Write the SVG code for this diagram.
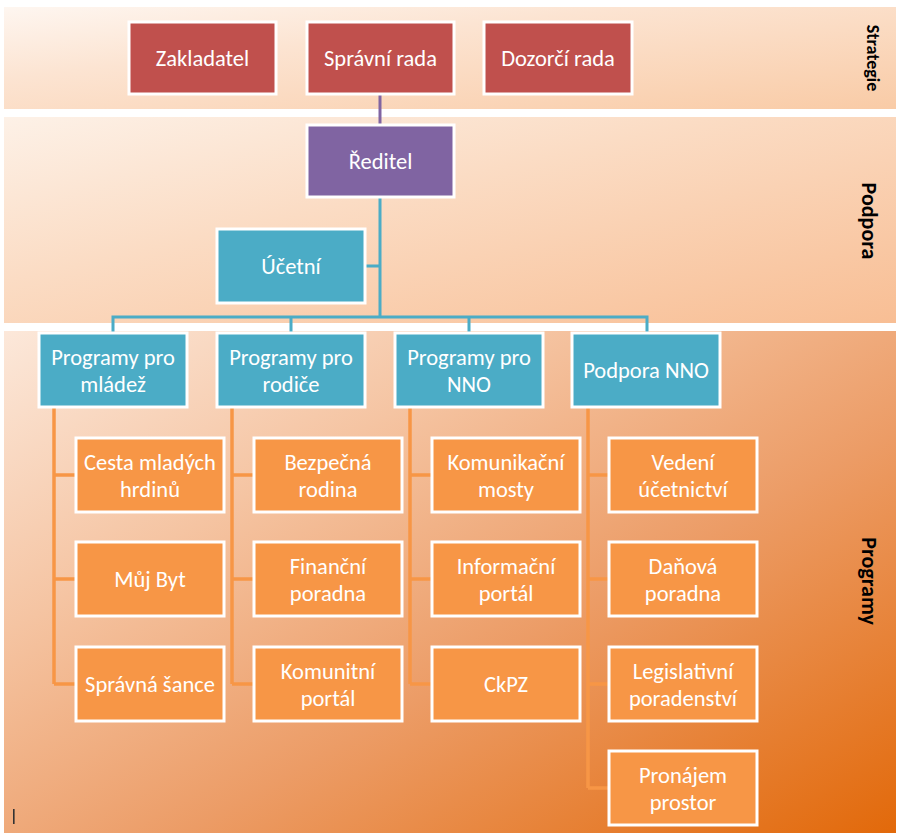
<svg xmlns="http://www.w3.org/2000/svg" width="900" height="838" viewBox="0 0 900 838">
<defs>
<linearGradient id="gS" x1="0" y1="0" x2="1" y2="1">
<stop offset="0" stop-color="#FEF6F0"/>
<stop offset="0.35" stop-color="#FCE4D2"/>
<stop offset="1" stop-color="#F9CBA6"/>
</linearGradient>
<linearGradient id="gP" x1="0" y1="0" x2="1" y2="1">
<stop offset="0" stop-color="#FDF1E7"/>
<stop offset="0.4" stop-color="#FBDCC4"/>
<stop offset="1" stop-color="#F8BE94"/>
</linearGradient>
<linearGradient id="gG" x1="0" y1="0" x2="1" y2="1">
<stop offset="0" stop-color="#FCE8DA"/>
<stop offset="0.3" stop-color="#F5C4A2"/>
<stop offset="0.6" stop-color="#EC9C66"/>
<stop offset="1" stop-color="#E2690A"/>
</linearGradient>
<style>
.box{stroke:#FFFFFF;stroke-width:3}
.red{fill:#C0504D}
.pur{fill:#8064A2}
.blu{fill:#4BACC6}
.org{fill:#F79646}
.t{font-family:Calibri,Carlito,Lato,'Liberation Sans',sans-serif;font-size:22.5px;fill:#FFFFFF;text-anchor:middle}
.lbl{font-family:Calibri,Carlito,Lato,'Liberation Sans',sans-serif;font-weight:bold;fill:#000000;text-anchor:middle}
.cp{fill:none;stroke:#8064A2;stroke-width:3}
.cb{fill:none;stroke:#4BACC6;stroke-width:3}
.co{fill:none;stroke:#F79646;stroke-width:3.5}
</style>
</defs>
<rect width="900" height="838" fill="#FFFFFF"/>
<g id="bands">
<rect x="4" y="7" width="892" height="102" fill="url(#gS)"/>
<rect x="4" y="117" width="892" height="206" fill="url(#gP)"/>
<rect x="4" y="331" width="892" height="502" fill="url(#gG)"/>
<text class="lbl" font-size="18" transform="translate(873,58) rotate(90)" dy="6">Strategie</text>
<text class="lbl" font-size="22" transform="translate(869,221) rotate(90)" dy="7.5">Podpora</text>
<text class="lbl" font-size="22" transform="translate(869,581) rotate(90)" dy="7.5">Programy</text>
<rect x="13" y="809" width="1.6" height="15" fill="#333333"/>
</g>
<g id="connectors">
<path class="cp" d="M380 94 V125"/>
<path class="cb" d="M380 197 V317 M365 266 H380 M113 333 V317 H647 V333 M291 317 V333 M469 317 V333"/>
<path class="co" d="M54 407 V684 M54 475 H76 M54 579 H76 M54 684 H76"/>
<path class="co" d="M232 407 V684 M232 475 H254 M232 579 H254 M232 684 H254"/>
<path class="co" d="M410 407 V684 M410 475 H432 M410 579 H432 M410 684 H432"/>
<path class="co" d="M588 407 V788 M588 475 H609 M588 579 H609 M588 684 H609 M588 788 H609"/>
</g>
<g id="zakladatel"><rect class="box red" x="129" y="22" width="147" height="72"/><text class="t" x="202.5" y="66">Zakladatel</text></g>
<g id="spravni-rada"><rect class="box red" x="307" y="22" width="147" height="72"/><text class="t" x="380.5" y="66">Správní rada</text></g>
<g id="dozorci-rada"><rect class="box red" x="484" y="22" width="148" height="72"/><text class="t" x="558" y="66">Dozorčí rada</text></g>
<g id="reditel"><rect class="box pur" x="307" y="125" width="147" height="72"/><text class="t" x="380.5" y="169">Ředitel</text></g>
<g id="ucetni"><rect class="box blu" x="217" y="229" width="148" height="74"/><text class="t" x="291" y="274">Účetní</text></g>
<g id="prog-mladez"><rect class="box blu" x="39" y="333" width="148" height="74"/><text class="t"><tspan x="113" y="364.5">Programy pro</tspan><tspan x="113" y="391.5">mládež</tspan></text></g>
<g id="prog-rodice"><rect class="box blu" x="217" y="333" width="148" height="74"/><text class="t"><tspan x="291" y="364.5">Programy pro</tspan><tspan x="291" y="391.5">rodiče</tspan></text></g>
<g id="prog-nno"><rect class="box blu" x="395" y="333" width="148" height="74"/><text class="t"><tspan x="469" y="364.5">Programy pro</tspan><tspan x="469" y="391.5">NNO</tspan></text></g>
<g id="podpora-nno"><rect class="box blu" x="572" y="333" width="148" height="74"/><text class="t" x="646" y="378">Podpora NNO</text></g>
<g id="cesta"><rect class="box org" x="76" y="438" width="148" height="74"/><text class="t"><tspan x="150" y="469.5">Cesta mladých</tspan><tspan x="150" y="496.5">hrdinů</tspan></text></g>
<g id="muj-byt"><rect class="box org" x="76" y="542" width="148" height="74"/><text class="t" x="150" y="587">Můj Byt</text></g>
<g id="spravna-sance"><rect class="box org" x="76" y="647" width="148" height="74"/><text class="t" x="150" y="692">Správná šance</text></g>
<g id="bezpecna-rodina"><rect class="box org" x="254" y="438" width="148" height="74"/><text class="t"><tspan x="328" y="469.5">Bezpečná</tspan><tspan x="328" y="496.5">rodina</tspan></text></g>
<g id="financni-poradna"><rect class="box org" x="254" y="542" width="148" height="74"/><text class="t"><tspan x="328" y="573.5">Finanční</tspan><tspan x="328" y="600.5">poradna</tspan></text></g>
<g id="komunitni-portal"><rect class="box org" x="254" y="647" width="148" height="74"/><text class="t"><tspan x="328" y="678.5">Komunitní</tspan><tspan x="328" y="705.5">portál</tspan></text></g>
<g id="komunikacni-mosty"><rect class="box org" x="432" y="438" width="148" height="74"/><text class="t"><tspan x="506" y="469.5">Komunikační</tspan><tspan x="506" y="496.5">mosty</tspan></text></g>
<g id="informacni-portal"><rect class="box org" x="432" y="542" width="148" height="74"/><text class="t"><tspan x="506" y="573.5">Informační</tspan><tspan x="506" y="600.5">portál</tspan></text></g>
<g id="ckpz"><rect class="box org" x="432" y="647" width="148" height="74"/><text class="t" x="506" y="692">CkPZ</text></g>
<g id="vedeni-ucetnictvi"><rect class="box org" x="609" y="438" width="148" height="74"/><text class="t"><tspan x="683" y="469.5">Vedení</tspan><tspan x="683" y="496.5">účetnictví</tspan></text></g>
<g id="danova-poradna"><rect class="box org" x="609" y="542" width="148" height="74"/><text class="t"><tspan x="683" y="573.5">Daňová</tspan><tspan x="683" y="600.5">poradna</tspan></text></g>
<g id="legislativni-poradenstvi"><rect class="box org" x="609" y="647" width="148" height="74"/><text class="t"><tspan x="683" y="678.5">Legislativní</tspan><tspan x="683" y="705.5">poradenství</tspan></text></g>
<g id="pronajem-prostor"><rect class="box org" x="609" y="751" width="148" height="74"/><text class="t"><tspan x="683" y="782.5">Pronájem</tspan><tspan x="683" y="809.5">prostor</tspan></text></g>
</svg>
